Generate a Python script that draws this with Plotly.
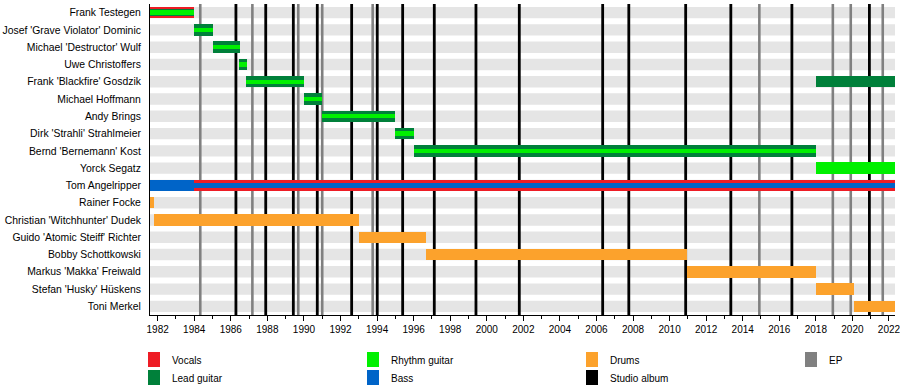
import plotly.graph_objects as go

# ---------------- data ----------------
members = [
    "Frank Testegen", "Josef 'Grave Violator' Dominic", "Michael 'Destructor' Wulf",
    "Uwe Christoffers", "Frank 'Blackfire' Gosdzik", "Michael Hoffmann", "Andy Brings",
    "Dirk 'Strahli' Strahlmeier", "Bernd 'Bernemann' Kost", "Yorck Segatz",
    "Tom Angelripper", "Rainer Focke", "Christian 'Witchhunter' Dudek",
    "Guido 'Atomic Steiff' Richter", "Bobby Schottkowski", "Markus 'Makka' Freiwald",
    "Stefan 'Husky' Hüskens", "Toni Merkel",
]

period_start = 1981.58
period_end = 2022.33

# (member, start, end, band) -- band: "full" bar or "mid"/"thin" stripe within a shared row
vocals = [
    ("Frank Testegen", 1981.58, 1984.0, "full"),
    ("Tom Angelripper", 1984.0, 2022.33, "full"),
]
lead_guitar = [
    ("Frank Testegen", 1981.58, 1984.0, "mid"),
    ("Josef 'Grave Violator' Dominic", 1984.0, 1985.0, "full"),
    ("Michael 'Destructor' Wulf", 1985.0, 1986.5, "full"),
    ("Uwe Christoffers", 1986.45, 1986.9, "full"),
    ("Frank 'Blackfire' Gosdzik", 1986.85, 1990.0, "full"),
    ("Michael Hoffmann", 1990.0, 1991.0, "full"),
    ("Andy Brings", 1991.0, 1995.0, "full"),
    ("Dirk 'Strahli' Strahlmeier", 1995.0, 1996.0, "full"),
    ("Bernd 'Bernemann' Kost", 1996.0, 2018.0, "full"),
    ("Frank 'Blackfire' Gosdzik", 2018.0, 2022.33, "full"),
]
rhythm_guitar = [
    ("Frank Testegen", 1981.58, 1984.0, "thin"),
    ("Josef 'Grave Violator' Dominic", 1984.0, 1985.0, "thin"),
    ("Michael 'Destructor' Wulf", 1985.0, 1986.5, "thin"),
    ("Uwe Christoffers", 1986.45, 1986.9, "thin"),
    ("Frank 'Blackfire' Gosdzik", 1986.85, 1990.0, "thin"),
    ("Michael Hoffmann", 1990.0, 1991.0, "thin"),
    ("Andy Brings", 1991.0, 1995.0, "thin"),
    ("Dirk 'Strahli' Strahlmeier", 1995.0, 1996.0, "thin"),
    ("Bernd 'Bernemann' Kost", 1996.0, 2018.0, "thin"),
    ("Yorck Segatz", 2018.0, 2022.33, "full"),
]
bass = [
    ("Tom Angelripper", 1981.58, 1984.0, "full"),
    ("Tom Angelripper", 1984.0, 2022.33, "thin"),
]
drums = [
    ("Rainer Focke", 1981.58, 1981.8, "full"),
    ("Christian 'Witchhunter' Dudek", 1981.8, 1993.0, "full"),
    ("Guido 'Atomic Steiff' Richter", 1993.0, 1996.7, "full"),
    ("Bobby Schottkowski", 1996.7, 2010.95, "full"),
    ("Markus 'Makka' Freiwald", 2010.95, 2018.0, "full"),
    ("Stefan 'Husky' Hüskens", 2018.0, 2020.1, "full"),
    ("Toni Merkel", 2020.1, 2022.33, "full"),
]

studio_albums = [1986.28, 1987.91, 1989.42, 1990.73, 1992.61, 1994.01, 1995.4, 1997.13,
                 1999.41, 2001.78, 2006.34, 2007.77, 2010.88, 2013.35, 2016.69, 2020.93]
eps = [1984.33, 1987.18, 1989.69, 1991.0, 1993.76, 2014.91, 2018.93, 2019.91, 2021.66]

legend_labels = ["Vocals", "Lead guitar", "Rhythm guitar", "Bass", "Drums", "Studio album", "EP"]

# ---------------- styles ----------------
colors = {
    "Vocals": "#ee1c25",
    "Lead guitar": "#00803a",
    "Rhythm guitar": "#00f000",
    "Bass": "#0064c8",
    "Drums": "#fca22c",
    "Studio album": "#000000",
    "EP": "#808080",
}
band_width = {"full": 0.66, "mid": 0.42, "thin": 0.25}
FONT = "Liberation Sans, Arial, sans-serif"

W, H = 900, 386
ML, MR, MT, MB = 150, 5, 4, 71
PW, PH = W - ML - MR, H - MT - MB

fig = go.Figure()

row = {m: i for i, m in enumerate(members)}
y_lo, y_hi = -0.5, len(members) - 0.5

# background bands per member
for m in members:
    fig.add_shape(type="rect", xref="x", yref="y", x0=period_start, x1=period_end,
                  y0=row[m] - 0.33, y1=row[m] + 0.33, fillcolor="#e5e5e5",
                  line_width=0, layer="below")

# release lines (drawn after the bands, below the bars)
for yr in eps:
    fig.add_shape(type="line", xref="x", yref="y", x0=yr, x1=yr, y0=y_lo, y1=y_hi,
                  line=dict(color=colors["EP"], width=2.6), layer="below")
for yr in studio_albums:
    fig.add_shape(type="line", xref="x", yref="y", x0=yr, x1=yr, y0=y_lo, y1=y_hi,
                  line=dict(color=colors["Studio album"], width=2.8), layer="below")

# role bars
for name, spans in [("Vocals", vocals), ("Lead guitar", lead_guitar),
                    ("Rhythm guitar", rhythm_guitar), ("Bass", bass), ("Drums", drums)]:
    fig.add_trace(go.Bar(
        orientation="h",
        y=[row[s[0]] for s in spans],
        base=[s[1] for s in spans],
        x=[s[2] - s[1] for s in spans],
        width=[band_width[s[3]] for s in spans],
        marker=dict(color=colors[name], line_width=0),
        name=name, showlegend=False, hoverinfo="skip",
    ))

# manual legend (pixel layout converted to paper coords)
def px(x):
    return (x - ML) / PW

def py(y):
    return (H - MB - y) / PH

legend_pos = [(148, 352), (148, 370), (367, 352), (367, 370), (586, 352), (586, 370), (805, 352)]
for lab, (lx, ly) in zip(legend_labels, legend_pos):
    fig.add_shape(type="rect", xref="paper", yref="paper", x0=px(lx), x1=px(lx + 12),
                  y0=py(ly), y1=py(ly + 15), fillcolor=colors[lab], line_width=0)
    fig.add_annotation(xref="paper", yref="paper", x=px(lx + 22), y=py(ly + 8),
                       text=lab, showarrow=False, xanchor="left", yanchor="middle",
                       font=dict(family=FONT, size=10, color="black"))

fig.update_layout(
    width=W, height=H,
    margin=dict(l=ML, r=MR, t=MT, b=MB, pad=0, autoexpand=False),
    paper_bgcolor="white", plot_bgcolor="white",
    barmode="overlay", bargap=0,
    font=dict(family=FONT, size=10, color="black"),
    showlegend=False,
)
fig.update_xaxes(
    range=[period_start, period_end], tickmode="linear", tick0=1982, dtick=2,
    ticks="outside", ticklen=5, tickcolor="black", tickwidth=1,
    minor=dict(dtick=1, tick0=1982, ticks="outside", ticklen=3, tickcolor="black", showgrid=False),
    showgrid=False, zeroline=False, showline=True, linecolor="black", linewidth=1,
    tickfont=dict(family=FONT, size=10, color="black"), ticklabeloverflow="allow",
    automargin=False, fixedrange=True,
)
fig.update_yaxes(
    range=[y_hi, y_lo], tickmode="array",
    tickvals=list(range(len(members))), ticktext=members,
    ticks="", showgrid=False, zeroline=False, showline=True, linecolor="black", linewidth=1,
    tickfont=dict(family=FONT, size=10.4, color="black"), ticklabelstandoff=6,
    automargin=False, fixedrange=True,
)

fig.write_html("out.html", config={"displayModeBar": False},
               post_script="document.body.style.margin='0';document.body.style.padding='0';")
